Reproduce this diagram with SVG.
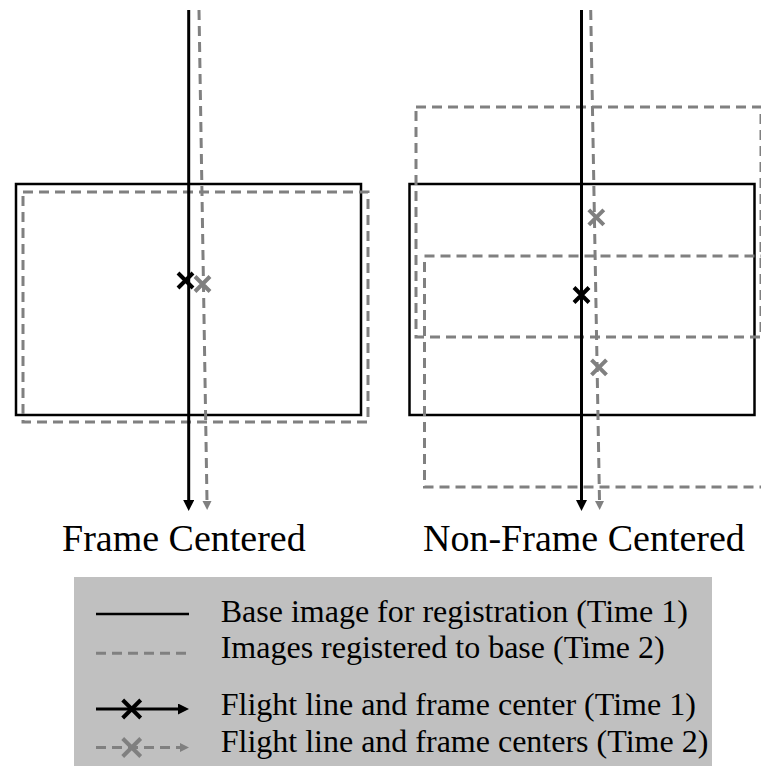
<svg xmlns="http://www.w3.org/2000/svg" width="761" height="766" viewBox="0 0 761 766">
  <defs>
    <style>
      .base{fill:none;stroke:#000;stroke-width:2.5}
      .reg{fill:none;stroke:#808080;stroke-width:3;stroke-dasharray:10 6}
      .fl1{fill:none;stroke:#000;stroke-width:3}
      .fl2{fill:none;stroke:#808080;stroke-width:3;stroke-dasharray:10 6}
      .x1{stroke:#000;stroke-width:4;fill:none}
      .x2{stroke:#808080;stroke-width:4;fill:none}
      .title{font-family:"Liberation Serif","Times New Roman",serif;font-size:38px;fill:#000}
      .lg{font-family:"Liberation Serif","Times New Roman",serif;font-size:32px;fill:#000}
    </style>
    <marker id="ah1" viewBox="0 0 10 10" refX="0" refY="5" markerWidth="12" markerHeight="11" markerUnits="userSpaceOnUse" orient="auto">
      <path d="M0,0 L10,5 L0,10 z" fill="#000"/>
    </marker>
    <marker id="ah2" viewBox="0 0 10 10" refX="0" refY="5" markerWidth="10" markerHeight="9" markerUnits="userSpaceOnUse" orient="auto">
      <path d="M0,0 L10,5 L0,10 z" fill="#808080"/>
    </marker>
    <path id="xm" d="M-7.5,-7.5 L7.5,7.5 M-7.5,7.5 L7.5,-7.5"/>
    <path id="xl" d="M-9,-9 L9,9 M-9,9 L9,-9"/>
  </defs>

  <!-- frame-centered case -->
  <g id="frame-centered">
    <rect class="base" x="16" y="184" width="345" height="231"/>
    <rect class="reg" x="23" y="192" width="345" height="230"/>
  </g>

  <!-- non-frame-centered case -->
  <g id="non-frame-centered">
    <rect class="base" x="409.5" y="184" width="345" height="231"/>
    <rect class="reg" x="416" y="107" width="345" height="230"/>
    <rect class="reg" x="424.5" y="256" width="345" height="231"/>
  </g>

  <!-- flight lines -->
  <g id="connectors">
    <line class="fl1" x1="188.7" y1="10" x2="188.7" y2="500" marker-end="url(#ah1)"/>
    <line class="fl2" x1="199" y1="10" x2="207" y2="501" marker-end="url(#ah2)"/>
    <line class="fl1" x1="581.5" y1="10" x2="581.5" y2="500" marker-end="url(#ah1)"/>
    <line class="fl2" x1="590.7" y1="10" x2="599.5" y2="501" marker-end="url(#ah2)"/>
  </g>

  <!-- frame centres -->
  <g id="centers">
    <use href="#xm" class="x1" x="185.5" y="280.5"/>
    <use href="#xm" class="x2" x="202.5" y="284"/>
    <use href="#xm" class="x1" x="581.5" y="295"/>
    <use href="#xm" class="x2" x="596.3" y="217.3"/>
    <use href="#xm" class="x2" x="599" y="367.3"/>
  </g>

  <g id="titles">
    <text class="title" x="62" y="551">Frame Centered</text>
    <text class="title" x="423" y="551">Non-Frame Centered</text>
  </g>

  <!-- legend -->
  <g id="legend">
    <rect x="74" y="577" width="638" height="189" fill="#c0c0c0"/>
    <line x1="96" y1="614" x2="189" y2="614" stroke="#000" stroke-width="2.5"/>
    <line x1="96" y1="653.3" x2="189" y2="653.3" stroke="#808080" stroke-width="3" stroke-dasharray="10 6"/>
    <line class="fl1" x1="96" y1="709" x2="178" y2="709" marker-end="url(#ah1)"/>
    <use href="#xl" class="x1" x="131.7" y="709"/>
    <line class="fl2" x1="96" y1="747.5" x2="180" y2="747.5" marker-end="url(#ah2)"/>
    <use href="#xl" class="x2" x="131.7" y="747.5"/>
    <text class="lg" x="220.7" y="622">Base image for registration (Time 1)</text>
    <text class="lg" x="220.7" y="658">Images registered to base (Time 2)</text>
    <text class="lg" x="220.7" y="715">Flight line and frame center (Time 1)</text>
    <text class="lg" x="220.7" y="752">Flight line and frame centers (Time 2)</text>
  </g>
</svg>
